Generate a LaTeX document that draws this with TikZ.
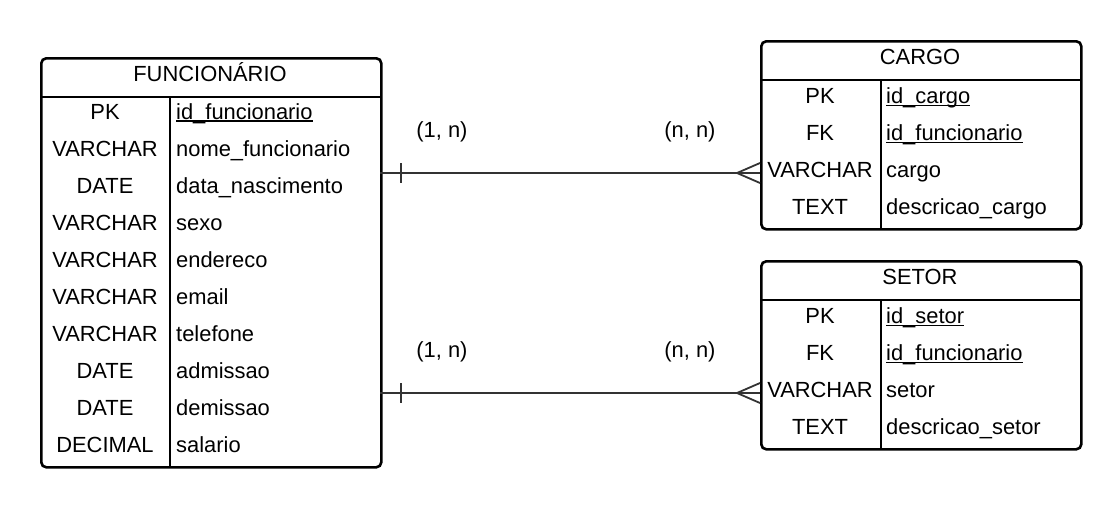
\documentclass[tikz,border=0pt]{standalone}
\usepackage{fontspec}
\setmainfont{Liberation Sans}
\usetikzlibrary{positioning}
\newcommand\keyline[1]{\setbox0\hbox{#1}\rlap{\rule[-2.6pt]{\wd0}{1.3pt}}\box0}
\begin{document}
\begin{tikzpicture}[x=1pt, y=-1pt, font=\fontsize{21.9}{26}\selectfont,
      tbl/.style={draw, line width=2.6pt, rounded corners=5pt, anchor=north west, inner sep=0pt},
      sep/.style={line width=2.6pt},
      typ/.style={anchor=base, inner sep=0pt},
      fld/.style={anchor=base west, inner sep=0pt},
      rel/.style={line width=1.8pt, color=black!80},
      card/.style={anchor=base, inner sep=0pt}]
      \useasboundingbox (0,0) rectangle (1120,507);

      % FUNCIONARIO
      \node[tbl, minimum width=340pt, minimum height=409pt] (func) at (40,57) {};
      \draw[sep] (40,97) -- (380,97); \draw[sep] (170,97) -- (170,466);
      \node[typ] (func-h) at (210,81) {FUNCIONÁRIO};
      \foreach \t/\f [count=\i from 0] in {PK/\keyline{id\_funcionario}, VARCHAR/nome\_funcionario,
            DATE/data\_nascimento, VARCHAR/sexo, VARCHAR/endereco, VARCHAR/email,
            VARCHAR/telefone, DATE/admissao, DATE/demissao, DECIMAL/salario} {
        \node[typ] (f-t\i) at (105,119+37*\i) {\t};
        \node[fld] (f-n\i) at (176,119+37*\i) {\f};
      }

      % CARGO
      \node[tbl, minimum width=320pt, minimum height=188pt] (cargo) at (760,40) {};
      \draw[sep] (760,80) -- (1080,80); \draw[sep] (881,80) -- (881,228);
      \node[typ] (cargo-h) at (920,64.5) {CARGO};
      \foreach \t/\f [count=\i from 0] in {PK/\keyline{id\_cargo}, FK/\keyline{id\_funcionario},
            VARCHAR/cargo, TEXT/descricao\_cargo} {
        \node[typ] (c-t\i) at (820,103.5+37*\i) {\t};
        \node[fld] (c-n\i) at (886,103.5+37*\i) {\f};
      }

      % SETOR
      \node[tbl, minimum width=320pt, minimum height=188pt] (setor) at (760,260) {};
      \draw[sep] (760,300) -- (1080,300); \draw[sep] (881,300) -- (881,448);
      \node[typ] (setor-h) at (920,284.5) {SETOR};
      \foreach \t/\f [count=\i from 0] in {PK/\keyline{id\_setor}, FK/\keyline{id\_funcionario},
            VARCHAR/setor, TEXT/descricao\_setor} {
        \node[typ] (s-t\i) at (820,323.5+37*\i) {\t};
        \node[fld] (s-n\i) at (886,323.5+37*\i) {\f};
      }

      % relacoes
      \coordinate (fc) at (380,173); \coordinate (cc) at (760,173);
      \coordinate (fs) at (380,393); \coordinate (ss) at (760,393);
      \draw[rel] (fc) -- (cc);
      \draw[rel] (fc) ++(21,-10) -- ++(0,20);
      \draw[rel] (cc) ++(0,-10) -- ++(-23,10) -- ++(23,10);
      \draw[rel] (fs) -- (ss);
      \draw[rel] (fs) ++(21,-10) -- ++(0,20);
      \draw[rel] (ss) ++(0,-10) -- ++(-23,10) -- ++(23,10);

      \node[card] (c1) at (442,137.5) {(1, n)};
      \node[card] (c2) at (690,137.5) {(n, n)};
      \node[card] (s1) at (442,357.5) {(1, n)};
      \node[card] (s2) at (690,357.5) {(n, n)};
\end{tikzpicture}
\end{document}
